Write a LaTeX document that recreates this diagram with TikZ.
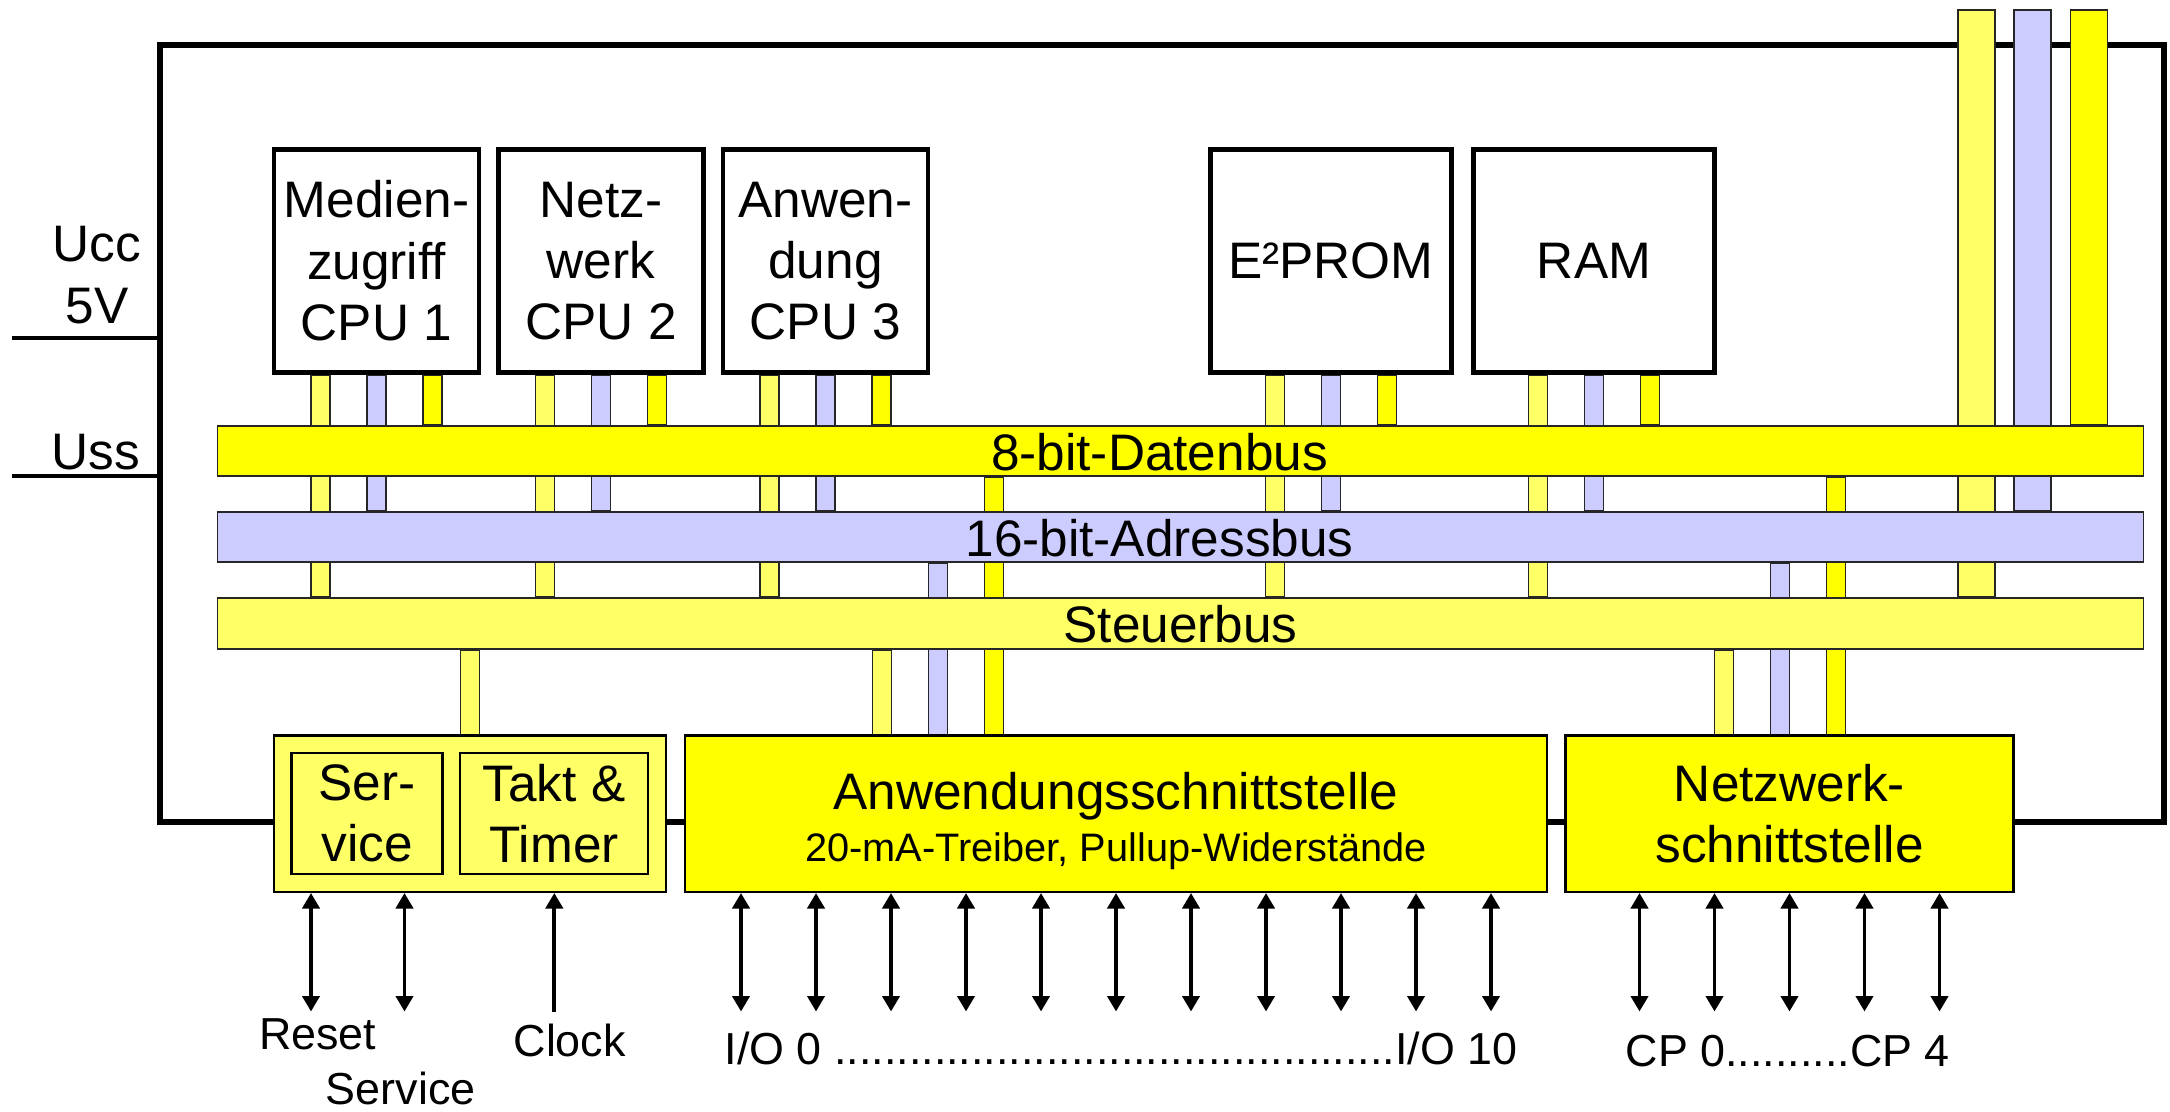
\documentclass[tikz,border=0pt]{standalone}
\usepackage{fontspec}
\setmainfont{Liberation Sans}
\usetikzlibrary{arrows.meta,calc}
\definecolor{yel}{HTML}{FFFF00}
\definecolor{ltyel}{HTML}{FFFF66}
\definecolor{lav}{HTML}{CCCCFF}
\pgfdeclarelayer{back}
\pgfdeclarelayer{mid}
\pgfsetlayers{back,mid,main}
\newcommand\fmain{\fontsize{14.6pt}{17.45pt}\selectfont}
\newcommand\flab{\fontsize{12.75pt}{15pt}\selectfont}
\newcommand\fsub{\fontsize{11.3pt}{13.5pt}\selectfont}
\newcommand\stubrect[4]{\filldraw[draw=black!85,line width=0.4pt,fill=#1] ($(#2)+(-#4,0)$) rectangle ($(#3)+(#4,0)$);}
\begin{document}
\begin{tikzpicture}[x=0.01cm,y=-0.01cm,
  unit/.style={draw, line width=1.35pt, fill=white, minimum width=2.05cm, minimum height=2.23cm, inner sep=0pt, align=center, font=\fmain},
  bus/.style={draw=black!85, line width=0.5pt, minimum width=19.25cm, minimum height=0.50cm, inner sep=0pt},
  iface/.style={draw, line width=0.7pt, minimum height=1.56cm, inner sep=0pt, align=center, font=\fmain},
  innerbox/.style={draw, line width=0.7pt, fill=ltyel, minimum height=1.21cm, inner sep=0pt, align=center, font=\fmain},
  txt/.style={font=\fmain, inner sep=0pt},
  sub/.style={font=\fsub, inner sep=0pt},
  lab/.style={font=\flab, inner sep=0pt},
  pwr/.style={line width=1.2pt},
  dbl/.style={{Triangle[length=0.155cm,width=0.17cm]}-{Triangle[length=0.155cm,width=0.17cm]}, line width=1.1pt},
  sgl/.style={-{Triangle[length=0.155cm,width=0.17cm]}, line width=1.1pt}]

\useasboundingbox (0,0) rectangle (2170,1111);

% processing units and memories
\node[unit] (cpu1) at (376.5,261) {Medien-\\zugriff\\CPU 1};
\node[unit] (cpu2) at (601,261) {Netz-\\werk\\CPU 2};
\node[unit] (cpu3) at (825.5,261) {Anwen-\\dung\\CPU 3};
\node[unit, minimum width=2.41cm] (eep) at (1331,261) {E²PROM};
\node[unit, minimum width=2.41cm] (ram) at (1594,261) {RAM};

% buses
\node[bus, fill=yel] (daten) at (1180.5,451) {};
\node[bus, fill=lav] (adress) at (1180.5,537) {};
\node[bus, fill=ltyel, minimum height=0.51cm] (steuer) at (1180.5,623.5) {};
\node[txt] (datenlab) at ($(daten.center)+(-21,1)$) {8-bit-Datenbus};
\node[txt] (adresslab) at ($(adress.center)+(-21,1)$) {16-bit-Adressbus};
\node[txt] (steuerlab) at ($(steuer.center)+(0,1)$) {Steuerbus};

% interface blocks
\node[iface, fill=ltyel, minimum width=3.92cm] (svc) at (470,813.7) {};
\node[innerbox, minimum width=1.505cm] (service) at (367,813.4) {Ser-\\vice};
\node[innerbox, minimum width=1.875cm] (takt) at (554,813.4) {Takt \&\\Timer};
\node[iface, fill=yel, minimum width=8.61cm] (anw) at (1116,813.7) {};
\node[txt, anchor=base] (anwlab) at (1116,809.3) {Anwendungsschnittstelle};
\node[sub, anchor=base] (anwsub) at (1116,861) {20-mA-Treiber, Pullup-Widerstände};
\node[iface, fill=yel, minimum width=4.48cm] (netz) at (1789.5,813.7) {Netzwerk-\\schnittstelle};

% frame and supply
\begin{pgfonlayer}{back}
\node[draw, line width=1.7pt, minimum width=20.02cm, minimum height=7.77cm, inner sep=0pt] (frame) at (1162,433.5) {};
\coordinate (ucc) at (12,338);
\coordinate (uss) at (12,476);
\draw[pwr] (ucc) -- (ucc -| frame.west);
\draw[pwr] (uss) -- (uss -| frame.west);
\end{pgfonlayer}
\node[txt, align=center] (ucclab) at (97,275) {Ucc\\5V};
\node[txt, anchor=base] (usslab) at (96,469.5) {Uss};

% bus stubs
\begin{pgfonlayer}{mid}
\foreach \n in {cpu1,cpu2,cpu3,eep,ram}{
  \path (\n.south) ++(-56,0) coordinate (\n-a) ++(56,0) coordinate (\n-b) ++(56,0) coordinate (\n-c);
  \stubrect{ltyel}{\n-a}{\n-a |- steuer.north}{9.5}
  \stubrect{lav}{\n-b}{\n-b |- adress.north}{9.5}
  \stubrect{yel}{\n-c}{\n-c |- daten.north}{9.5}
}
\coordinate (s1) at (470,0);
\stubrect{ltyel}{s1 |- svc.north}{s1 |- steuer.south}{9.5}
\coordinate (a1) at (882,0);
\coordinate (a2) at (938,0);
\coordinate (a3) at (994,0);
\stubrect{ltyel}{a1 |- anw.north}{a1 |- steuer.south}{9.5}
\stubrect{lav}{a2 |- anw.north}{a2 |- adress.south}{9.5}
\stubrect{yel}{a3 |- anw.north}{a3 |- daten.south}{9.5}
\coordinate (n1) at (1724,0);
\coordinate (n2) at (1780,0);
\coordinate (n3) at (1836,0);
\stubrect{ltyel}{n1 |- netz.north}{n1 |- steuer.south}{9.5}
\stubrect{lav}{n2 |- netz.north}{n2 |- adress.south}{9.5}
\stubrect{yel}{n3 |- netz.north}{n3 |- daten.south}{9.5}
\coordinate (t1) at (1976.5,10);
\coordinate (t2) at (2032.5,10);
\coordinate (t3) at (2089,10);
\stubrect{ltyel}{t1}{t1 |- steuer.north}{18.5}
\stubrect{lav}{t2}{t2 |- adress.north}{18.5}
\stubrect{yel}{t3}{t3 |- daten.north}{18.5}
\end{pgfonlayer}

% external lines
\coordinate (rs) at (311,1011.5);
\coordinate (sv) at (404.5,1011.5);
\coordinate (ck) at (554.3,1011.5);
\draw[dbl] (rs) -- (rs |- svc.south);
\draw[dbl] (sv) -- (sv |- svc.south);
\draw[sgl] (ck) -- (ck |- svc.south);
\foreach \i in {0,...,10}{
  \coordinate (io\i) at ({741+75*\i},1011.5);
  \draw[dbl] (io\i) -- (io\i |- anw.south);
}
\foreach \i in {0,...,4}{
  \coordinate (cp\i) at ({1639.5+75*\i},1011.5);
  \draw[dbl] (cp\i) -- (cp\i |- netz.south);
}

\node[lab, anchor=base] (resetlab) at (317.7,1049.3) {Reset};
\node[lab, anchor=base] (servicelab) at (400.7,1104) {Service};
\node[lab, anchor=base] (clocklab) at (569.7,1056) {Clock};
\node[lab, anchor=base west] (iolab) at (724,1064) {I/O 0 .............................................I/O 10};
\node[lab, anchor=base west] (cplab) at (1625,1066.7) {CP 0..........CP 4};
\end{tikzpicture}
\end{document}
